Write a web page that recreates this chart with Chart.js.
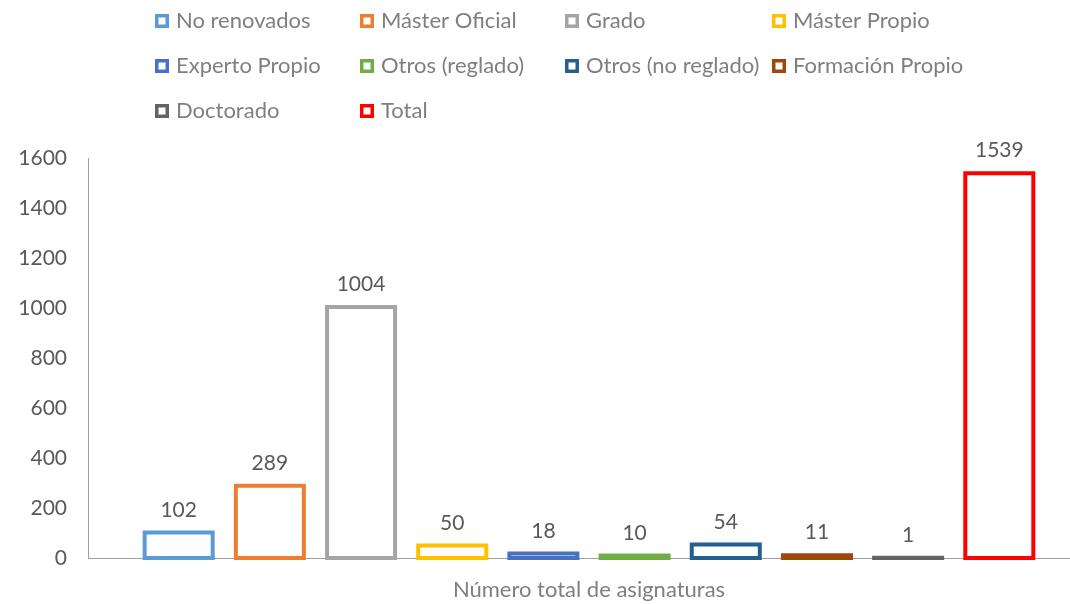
<!DOCTYPE html>
<html>
<head>
<meta charset="utf-8">
<script src="https://cdn.jsdelivr.net/npm/chart.js@4/dist/chart.umd.min.js"></script>
<style>
  html, body { margin: 0; padding: 0; background: #fff; overflow: hidden; width: 1070px; height: 604px; }
  #wrap { position: relative; width: 1070px; height: 604px; overflow: hidden; }
  canvas { display: block; }
</style>
</head>
<body>
<div id="wrap"><canvas id="c" width="1090" height="604"></canvas></div>
<script>
const categories = ['Número total de asignaturas'];
const seriesNames = ['No renovados', 'Máster Oficial', 'Grado', 'Máster Propio', 'Experto Propio',
  'Otros (reglado)', 'Otros (no reglado)', 'Formación Propio', 'Doctorado', 'Total'];
const seriesValues = [102, 289, 1004, 50, 18, 10, 54, 11, 1, 1539];
const seriesColors = ['#5B9BD5', '#ED7D31', '#A5A5A5', '#FFC000', '#4472C4',
  '#70AD47', '#255E91', '#9E480E', '#636363', '#FF0000'];
const yMin = 0, yMax = 1600, yStep = 200;

const FONT = 'Lato, "Open Sans", sans-serif';

const datasets = seriesNames.map((name, i) => ({
  label: name,
  data: [seriesValues[i]],
  backgroundColor: '#ffffff',
  borderColor: seriesColors[i],
  borderWidth: 0
}));

// Excel-style outline: stroke centred on the bar's edges
const barOutlines = {
  id: 'barOutlines',
  afterDatasetsDraw(chart) {
    const ctx = chart.ctx;
    ctx.save();
    ctx.lineWidth = 4;
    ctx.lineJoin = 'miter';
    chart.data.datasets.forEach((ds, i) => {
      const meta = chart.getDatasetMeta(i);
      meta.data.forEach((bar) => {
        const p = bar.getProps(['x', 'y', 'base', 'width'], true);
        const top = Math.min(p.y, p.base);
        const h = Math.abs(p.base - p.y);
        ctx.strokeStyle = ds.borderColor;
        ctx.strokeRect(p.x - p.width / 2, top, p.width, h);
      });
    });
    ctx.restore();
  }
};

const legendGrid = {
  id: 'legendGrid',
  afterDraw(chart) {
    const ctx = chart.ctx;
    const cols = [155, 360, 565, 772];
    const rows = [21, 66, 111];
    ctx.save();
    ctx.font = '22px ' + FONT;
    ctx.textBaseline = 'middle';
    ctx.textAlign = 'left';
    chart.data.datasets.forEach((ds, i) => {
      const x = cols[i % 4], y = rows[Math.floor(i / 4)];
      ctx.fillStyle = ds.borderColor;
      ctx.fillRect(x, y - 7, 14, 14);
      ctx.fillStyle = '#ffffff';
      ctx.fillRect(x + 3.5, y - 3.5, 7, 7);
      ctx.fillStyle = '#7f7f7f';
      ctx.fillText(ds.label, x + 21, y);
    });
    ctx.restore();
  }
};

const valueLabels = {
  id: 'valueLabels',
  afterDatasetsDraw(chart) {
    const ctx = chart.ctx;
    ctx.save();
    ctx.font = '21px ' + FONT;
    ctx.fillStyle = '#595959';
    ctx.textAlign = 'center';
    ctx.textBaseline = 'alphabetic';
    chart.data.datasets.forEach((ds, i) => {
      const meta = chart.getDatasetMeta(i);
      meta.data.forEach((bar, j) => {
        ctx.fillText(String(ds.data[j]), bar.x, bar.y - 16);
      });
    });
    ctx.restore();
  }
};

new Chart(document.getElementById('c'), {
  type: 'bar',
  data: { labels: categories, datasets },
  options: {
    responsive: false,
    animation: false,
    layout: { padding: { top: 158, left: 0, right: 0, bottom: 0 } },
    datasets: { bar: { categoryPercentage: 0.91, barPercentage: 0.746 } },
    plugins: { legend: { display: false }, tooltip: { enabled: false } },
    scales: {
      x: {
        grid: { display: false, drawTicks: false },
        border: { display: true, color: '#a0a0a0', width: 1 },
        ticks: { color: '#7f7f7f', font: { family: FONT, size: 22 }, padding: 19 },
        afterFit(s) { s.height = 46; }
      },
      y: {
        min: yMin, max: yMax,
        grid: { display: false, drawTicks: false },
        border: { display: true, color: '#a0a0a0', width: 1 },
        ticks: {
          stepSize: yStep, color: '#595959', font: { family: FONT, size: 21 }, padding: 21,
          callback: (v) => String(v)
        },
        afterFit(s) { s.width = 88; }
      }
    }
  },
  plugins: [barOutlines, legendGrid, valueLabels]
});
</script>
</body>
</html>
